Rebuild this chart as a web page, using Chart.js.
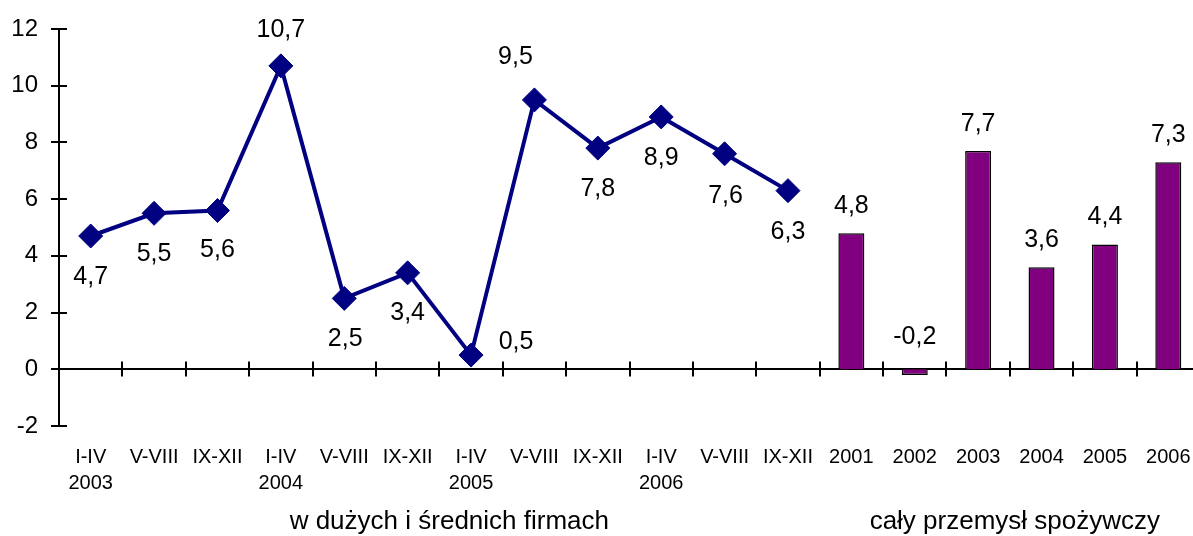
<!DOCTYPE html>
<html>
<head>
<meta charset="utf-8">
<script src="https://cdn.jsdelivr.net/npm/chart.js"></script>
<style>
  html, body { margin: 0; padding: 0; background: #fff; overflow: hidden; }
  canvas { display: block; }
</style>
</head>
<body>
<canvas id="chart" width="1200" height="536"></canvas>
<script>
// four-month periods (large and medium firms) and the years under them
var periods = ['I-IV', 'V-VIII', 'IX-XII', 'I-IV', 'V-VIII', 'IX-XII', 'I-IV', 'V-VIII', 'IX-XII', 'I-IV', 'V-VIII', 'IX-XII'];
var periodYears = ['2003', '', '', '2004', '', '', '2005', '', '', '2006', '', ''];
var years = ['2001', '2002', '2003', '2004', '2005', '2006'];

var firmsValues = [4.7, 5.5, 5.6, 10.7, 2.5, 3.4, 0.5, 9.5, 7.8, 8.9, 7.6, 6.3];
var industryValues = [4.8, -0.2, 7.7, 3.6, 4.4, 7.3];

var yMin = -2, yMax = 12, yStep = 2;
var groupTitles = ['w dużych i średnich firmach', 'cały przemysł spożywczy'];

// where each line label sits relative to its point
var lineLabelOffsets = [[0, 41], [0, 41], [0, 40], [0, -36], [1, 41], [0, 40], [45, -13], [-19, -43], [0, 41], [0, 41], [1, 42], [0, 41]];

var FONT = "'Liberation Sans', Arial, sans-serif";

var labels = [];
periods.forEach(function (p, i) {
  labels.push(periodYears[i] ? [p, periodYears[i]] : p);
});
years.forEach(function (y) { labels.push(y); });

var lineData = firmsValues.concat(years.map(function () { return null; }));
var barData = periods.map(function () { return null; }).concat(industryValues);

function fmt(v) { return String(v).replace('.', ','); }

function noPad(scale) {
  scale.paddingTop = 0;
  scale.paddingBottom = 0;
  scale.paddingLeft = 0;
  scale.paddingRight = 0;
}

var axesAndLabels = {
  id: 'axesAndLabels',
  beforeDatasetsDraw: function (chart) {
    var ctx = chart.ctx, ys = chart.scales.y;
    var area = chart.chartArea;
    var y0 = Math.round(ys.getPixelForValue(0));
    var ax = Math.round(area.left);
    ctx.save();
    ctx.strokeStyle = '#000';
    ctx.lineWidth = 2;
    ctx.beginPath();
    // y axis line and crossing ticks
    ctx.moveTo(ax, ys.getPixelForValue(yMax));
    ctx.lineTo(ax, ys.getPixelForValue(yMin));
    for (var v = yMin; v <= yMax; v += yStep) {
      var py = Math.round(ys.getPixelForValue(v));
      ctx.moveTo(ax - 8, py);
      ctx.lineTo(ax + 8, py);
    }
    // x axis at zero with ticks between categories
    ctx.moveTo(ax, y0);
    ctx.lineTo(area.right, y0);
    var n = labels.length;
    var w = (area.right - area.left) / n;
    for (var i = 1; i <= n; i++) {
      var px = Math.round(area.left + i * w);
      ctx.moveTo(px, y0 - 7.5);
      ctx.lineTo(px, y0 + 7.5);
    }
    ctx.stroke();
    ctx.restore();
  },
  afterDatasetsDraw: function (chart) {
    var ctx = chart.ctx, xs = chart.scales.x;
    ctx.save();
    ctx.fillStyle = '#000';
    ctx.textAlign = 'center';
    ctx.textBaseline = 'middle';
    ctx.font = '25px ' + FONT;

    var lineMeta = chart.getDatasetMeta(0);
    firmsValues.forEach(function (v, i) {
      var el = lineMeta.data[i];
      var off = lineLabelOffsets[i];
      ctx.fillText(fmt(v), el.x + off[0], el.y + off[1]);
    });

    var barMeta = chart.getDatasetMeta(1);
    industryValues.forEach(function (v, j) {
      var el = barMeta.data[periods.length + j];
      var top = Math.min(el.y, el.base);
      ctx.fillText(fmt(v), el.x, top - (v < 0 ? 32 : 27));
    });

    // group titles under the tick labels
    ctx.font = '26px ' + FONT;
    var g1 = (xs.getPixelForValue(0) + xs.getPixelForValue(periods.length - 1)) / 2;
    var g2 = (xs.getPixelForValue(periods.length) + xs.getPixelForValue(labels.length - 1)) / 2;
    ctx.fillText(groupTitles[0], g1 + 10, 522);
    ctx.fillText(groupTitles[1], g2 + 5, 522);
    ctx.restore();
  }
};

var ctx = document.getElementById('chart').getContext('2d');
var myChart = new Chart(ctx, {
  data: {
    labels: labels,
    datasets: [{
      type: 'line',
      data: lineData,
      borderColor: '#000080',
      backgroundColor: '#000080',
      borderWidth: 4,
      pointStyle: 'rectRot',
      pointRadius: 12,
      pointBorderWidth: 1,
      pointBackgroundColor: '#000080',
      pointBorderColor: '#000080',
      spanGaps: false
    }, {
      type: 'bar',
      data: barData,
      backgroundColor: '#800080',
      borderColor: '#000',
      borderWidth: 1.5,
      barPercentage: 0.41,
      categoryPercentage: 1
    }]
  },
  options: {
    responsive: false,
    animation: false,
    layout: { autoPadding: false, padding: { top: 29, right: 0, left: 0, bottom: 0 } },
    plugins: { legend: { display: false }, tooltip: { enabled: false } },
    scales: {
      x: {
        offset: true,
        grid: { display: false, drawTicks: false },
        border: { display: false },
        ticks: {
          color: '#000',
          font: { family: FONT, size: 20, lineHeight: 1.3 },
          padding: 18,
          maxRotation: 0,
          autoSkip: false
        },
        afterFit: function (scale) { scale.height = 110; noPad(scale); }
      },
      y: {
        min: yMin,
        max: yMax,
        grid: { display: false, drawTicks: false },
        border: { display: false },
        ticks: {
          stepSize: yStep,
          color: '#000',
          font: { family: FONT, size: 24 },
          padding: 21
        },
        afterFit: function (scale) { scale.width = 59; noPad(scale); }
      }
    }
  },
  plugins: [axesAndLabels]
});
</script>
</body>
</html>
